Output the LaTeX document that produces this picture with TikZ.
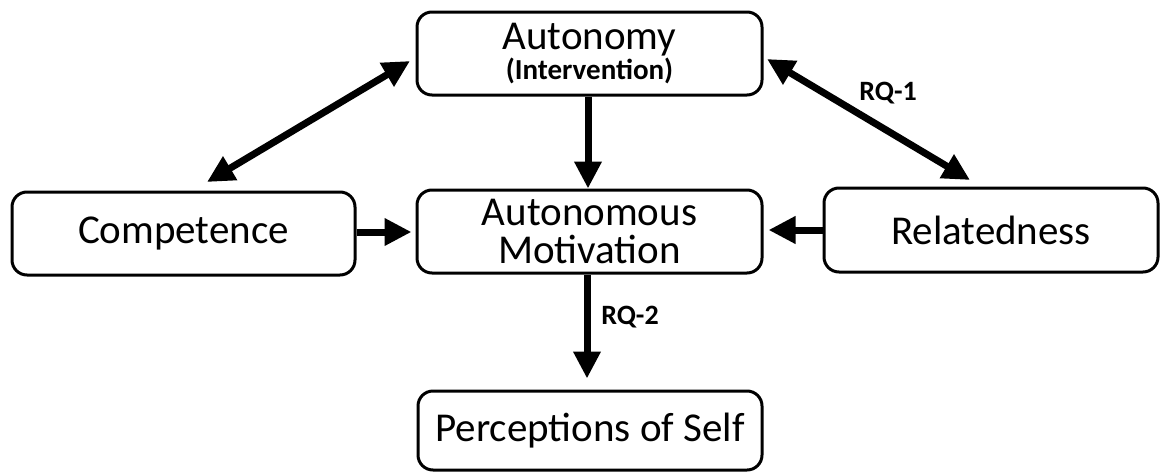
\documentclass[tikz,border=0pt]{standalone}
\usepackage{fontspec}
\setmainfont{Carlito}
\usetikzlibrary{arrows.meta}
\tikzset{
  box/.style={draw, line width=3pt, rounded corners=15pt, align=center, inner sep=0pt,
    font=\fontsize{41}{38}\selectfont},
  bigarrow/.style={line width=7pt, -{Triangle[length=27pt,width=26pt]}},
  dblarrow/.style={line width=7pt, {Triangle[length=27pt,width=26pt]}-{Triangle[length=27pt,width=26pt]}},
  rq/.style={font=\bfseries\fontsize{28}{28}\selectfont}
}
\begin{document}
\begin{tikzpicture}[x=1pt,y=-1pt]
\useasboundingbox (0,0) rectangle (1161,471);
\node[box, minimum width=345pt, minimum height=83pt] (auto) at (589.5,53.5)
  {Autonomy\\[-8pt]{\bfseries\fontsize{29}{28}\selectfont (Intervention)}};
\node[box, minimum width=345pt, minimum height=83pt] (mot) at (589.5,231.5)
  {Autonomous\\Motivation};
\node[box, minimum width=343pt, minimum height=83pt] (comp) at (183.5,233.5) {Competence};
\node[box, minimum width=334pt, minimum height=84pt] (rel) at (991,230) {Relatedness};
\node[box, minimum width=344pt, minimum height=79pt] (perc) at (590,430.5) {Perceptions of Self};
\coordinate (ac1) at (410,61);
\coordinate (ac2) at (207,182);
\coordinate (ar1) at (767,59);
\coordinate (ar2) at (970,180);
\draw[bigarrow] (auto.south -| 588,0) -- (mot.north -| 588,0);
\draw[bigarrow, shorten >=4pt] (comp.east |- 0,232) -- (mot.west |- 0,232);
\draw[bigarrow, shorten >=5pt] (rel.west |- 0,230) -- (mot.east |- 0,230);
\draw[bigarrow, shorten >=11pt] (mot.south -| 587,0) -- (perc.north -| 587,0);
\draw[dblarrow] (ac1) -- (ac2);
\draw[dblarrow] (ar1) -- (ar2);
\node[rq] (rq1) at (888,93) {RQ-1};
\node[rq] (rq2) at (630,317) {RQ-2};
\end{tikzpicture}
\end{document}
